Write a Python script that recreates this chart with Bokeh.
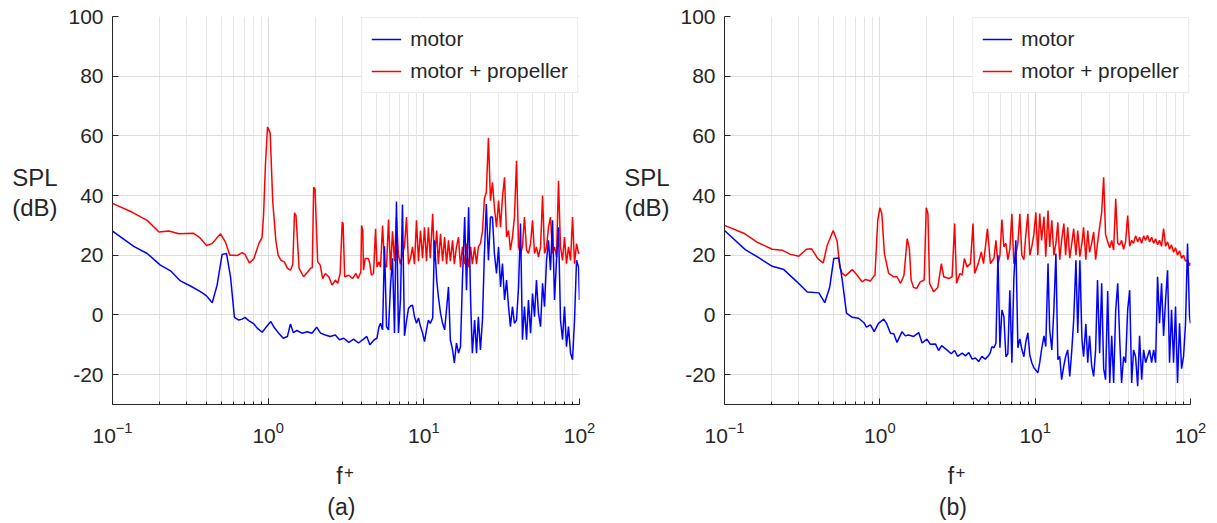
from bokeh.plotting import figure
from bokeh.layouts import row
from bokeh.models import Range1d, FixedTicker, Legend, LegendItem, LinearAxis
from bokeh.embed import file_html
from bokeh.resources import INLINE

# ---------------- data ----------------
# shared high-frequency grid (f+)
f_hi = [5.27, 5.43, 5.59, 5.76, 5.93, 6.11, 6.29, 6.48, 6.67, 6.87,
        7.08, 7.29, 7.51, 7.74, 7.97, 8.21, 8.46, 8.71, 8.97, 9.24,
        9.52, 9.81, 10.1, 10.4, 10.7, 11.0, 11.4, 11.7, 12.1, 12.4,
        12.8, 13.2, 13.6, 14.0, 14.4, 14.8, 15.3, 15.7, 16.2, 16.7,
        17.2, 17.7, 18.3, 18.8, 19.4, 20.0, 20.5, 21.2, 21.8, 22.4,
        23.1, 23.8, 24.5, 25.2, 26.0, 26.8, 27.6, 28.4, 29.3, 30.2,
        31.1, 32.0, 33.0, 34.0, 35.0, 36.0, 37.1, 38.2, 39.4, 40.6,
        41.8, 43.0, 44.3, 45.7, 47.0, 48.5, 49.9, 51.4, 52.9, 54.5,
        56.2, 57.9, 59.6, 61.4, 63.2, 65.1, 67.1, 69.1, 71.2, 73.3,
        75.5, 77.8, 80.1, 82.5, 85.0, 87.6, 90.2, 92.9, 95.7, 98.6,
        100.0]

# panel (a) - motor + propeller
fa_red_lo = [0.1, 0.134, 0.167, 0.199, 0.23, 0.267, 0.33, 0.364, 0.402, 0.436,
             0.494, 0.532, 0.567, 0.601, 0.63, 0.681, 0.71, 0.759, 0.81, 0.871,
             0.915, 0.935, 0.96, 0.99, 1.03, 1.07, 1.12, 1.16, 1.21, 1.27,
             1.33, 1.39, 1.44, 1.476, 1.51, 1.58, 1.69, 1.87, 1.92, 1.96,
             2.0, 2.08, 2.16, 2.24, 2.33, 2.45, 2.58, 2.7, 2.8, 2.9,
             2.99, 3.03, 3.1, 3.3, 3.48, 3.66, 3.78, 3.94, 3.98, 4.05,
             4.1, 4.2, 4.4, 4.5, 4.6, 4.75, 4.9, 5.0, 5.15]
a_red_lo = [37.4, 34.4, 31.7, 27.8, 28.1, 27.2, 27.4, 25.9, 23.3, 23.9,
            27.2, 24.4, 20.0, 20.0, 19.9, 20.9, 20.3, 17.4, 18.9, 23.9,
            26.1, 33.9, 50.0, 63.0, 61.0, 38.0, 25.0, 20.0, 18.3, 17.8,
            15.6, 15.0, 17.0, 34.2, 33.3, 15.6, 12.8, 15.6, 15.9, 42.8,
            42.2, 17.8, 16.7, 12.2, 13.9, 12.8, 10.0, 11.7, 10.6, 13.9,
            31.1, 30.6, 12.8, 13.3, 12.2, 13.9, 12.2, 14.4, 30.0, 28.3,
            15.0, 18.9, 18.9, 17.2, 13.3, 13.9, 28.9, 16.1, 17.8]
a_red_hi = [16, 30, 17, 16, 32, 15, 28, 18, 32.8, 20,
            17, 20.5, 22.8, 32.8, 17, 19, 22.8, 17, 31.7, 18,
            28.3, 19, 29.4, 18, 29.4, 19, 33.9, 18, 28.3, 17,
            27.2, 18, 26.1, 17, 25, 18, 25, 17, 22.8, 26.1,
            16, 22.8, 17, 23.9, 16, 22.8, 17, 22.8, 17, 22.8,
            23.9, 28, 39, 41.1, 59.4, 38.3, 44.4, 36, 29.4, 38.3,
            29.4, 39.4, 46.1, 26.1, 28.3, 21.7, 26.1, 32.8, 51.7, 22.8,
            20.6, 22.8, 32.8, 21.7, 20.6, 23.9, 31.7, 20.6, 22.8, 19.4,
            22.8, 40, 20.6, 22.8, 29.4, 32.8, 20.6, 22.8, 19.4, 45,
            22.8, 18.3, 26.1, 17.2, 22.8, 18.3, 32.8, 17.2, 23.9, 20.6,
            21]

# panel (a) - motor
fa_blue_lo = [0.1, 0.137, 0.167, 0.203, 0.236, 0.273, 0.317, 0.367, 0.402, 0.437,
              0.47, 0.506, 0.54, 0.573, 0.607, 0.648, 0.68, 0.71, 0.75, 0.81,
              0.85, 0.915, 0.96, 1.04, 1.1, 1.17, 1.25, 1.33, 1.39, 1.45,
              1.53, 1.65, 1.78, 1.91, 2.05, 2.17, 2.33, 2.5, 2.7, 2.87,
              3.06, 3.3, 3.54, 3.8, 4.1, 4.3, 4.5, 4.8, 5.0, 5.15]
a_blue_lo = [28.1, 23.0, 20.6, 16.7, 14.8, 11.4, 9.7, 7.8, 6.4, 4.1,
             10.0, 20.3, 20.6, 12.8, -0.8, -1.7, -1.4, -0.8, -1.9, -3.0,
             -4.4, -5.8, -4.4, -2.2, -4.4, -6.1, -7.8, -7.2, -3.0, -5.9,
             -5.2, -6.1, -5.6, -6.1, -4.1, -6.1, -6.7, -7.2, -6.7, -8.3,
             -7.8, -9.2, -8.1, -9.4, -8.1, -7.2, -10.0, -8.3, -7.8, -4.0]
a_blue_hi = [-2.8, -5, 23, -4, -5, 10, 19, -6, 38, -6,
             5, 37, -7, -2, 2.2, 3, 3.3, -0.6, -2.8, -1,
             -3.9, -6, -8.9, -5, -1.7, -2.8, -1, 25, 11.7, 6.1,
             0.6, -2.8, -5, 2, 9.4, -8.3, -11.7, -16.1, -9.4, -12.8,
             -10.6, 11.7, 32.8, 8.3, 36.1, 3.9, -12.8, -1.7, -12.8, -0.6,
             -11.7, -1.7, 20.6, 37.2, 18.3, 32.8, 32.8, 20.6, 13.9, 22.8,
             9.4, 17.2, 5, 11.7, 2.8, -3.9, 2.8, -2.8, -1.7, 9.4,
             30.6, -8.3, 2.8, -8.3, 5, -6.1, 7.2, -0.6, 11.7, 0.6,
             -3.9, 10.6, 2.8, 18.3, 25, 15, 31.7, 5, 18.3, 29.4,
             -1.7, -8.3, 2.8, -10.6, -3.9, -12.8, -15, -1.7, 18.3, 16.1,
             5]

# panel (b) - motor + propeller
fb_red_lo = [0.1, 0.133, 0.162, 0.203, 0.235, 0.266, 0.301, 0.337, 0.363, 0.399,
             0.432, 0.458, 0.501, 0.531, 0.552, 0.573, 0.601, 0.664, 0.715, 0.769,
             0.809, 0.871, 0.915, 0.93, 0.97, 1.0, 1.03, 1.07, 1.14, 1.23,
             1.29, 1.36, 1.43, 1.5, 1.55, 1.59, 1.65, 1.73, 1.82, 1.93,
             1.99, 2.04, 2.09, 2.22, 2.36, 2.49, 2.58, 2.78, 2.92, 3.03,
             3.12, 3.28, 3.39, 3.5, 3.64, 3.83, 3.98, 4.08, 4.3, 4.5,
             4.65, 4.93, 5.15]
b_red_lo = [30.0, 27.4, 24.4, 22.0, 21.7, 20.3, 19.7, 22.0, 22.2, 18.9,
            17.4, 23.3, 28.3, 24.7, 16.1, 13.9, 13.1, 15.2, 13.3, 11.1,
            11.9, 11.4, 13.0, 13.3, 31.7, 35.9, 33.9, 20.6, 13.9, 12.8,
            12.8, 10.6, 13.3, 25.6, 22.2, 11.7, 9.2, 8.9, 11.1, 11.7,
            35.9, 33.9, 10.6, 7.8, 9.2, 17.2, 12.8, 12.2, 12.8, 30.6,
            10.6, 13.9, 13.3, 18.9, 16.1, 17.2, 30.6, 13.9, 17.2, 21.1,
            17.2, 28.9, 17.2]
b_red_hi = [18, 19, 25, 17, 20, 32, 22.8, 24, 18.5, 22,
            33.9, 17.2, 20.5, 24, 33.9, 20, 18.5, 27, 33.9, 20,
            23, 27, 34.4, 20, 34, 25, 33, 19.5, 35, 22.8,
            31.7, 20, 24, 31, 18.5, 25, 30.6, 20, 29.4, 19,
            24, 28.9, 20, 28.3, 19.5, 24, 29.4, 18.5, 28.3, 21,
            24, 27.8, 18.5, 24, 29.4, 34.4, 46.1, 27, 24.5, 22.5,
            25, 21.7, 38.9, 24, 23.5, 25, 22, 24.5, 33.3, 23,
            25, 24, 26.5, 24.5, 26, 24, 26.5, 25, 26.7, 24.5,
            26, 24, 25.5, 23.5, 25, 23, 28.9, 23, 24.5, 22,
            23.5, 21, 22.5, 20, 21.5, 19, 20, 18, 18.5, 16.5,
            17.5]

# panel (b) - motor
fb_blue_lo = [0.1, 0.136, 0.166, 0.203, 0.241, 0.293, 0.341, 0.405, 0.442, 0.476,
              0.505, 0.544, 0.573, 0.61, 0.664, 0.73, 0.79, 0.82, 0.87, 0.92,
              0.98, 1.06, 1.11, 1.17, 1.23, 1.29, 1.39, 1.46, 1.53, 1.65,
              1.78, 1.87, 2.01, 2.11, 2.28, 2.39, 2.5, 2.7, 2.88, 3.03,
              3.17, 3.39, 3.56, 3.74, 3.93, 4.12, 4.33, 4.54, 4.77, 5.0,
              5.15]
b_blue_lo = [28.3, 21.9, 19.2, 16.3, 15.2, 11.1, 7.7, 7.4, 4.1, 9.4,
             18.9, 19.1, 11.7, 0.6, -0.8, -1.1, -2.6, -4.1, -3.3, -5.6,
             -2.8, -1.4, -3.0, -6.1, -6.3, -9.2, -5.6, -7.0, -6.7, -7.2,
             -5.9, -9.4, -8.1, -9.8, -9.7, -11.9, -10.3, -11.7, -13.0, -11.9,
             -13.9, -12.8, -13.7, -12.6, -14.8, -14.4, -15.6, -13.9, -14.8, -13.7,
             -12.5]
b_blue_hi = [-10.6, -11, -9.5, 20, -11, 1.7, -0.6, -14, -13, 8.3,
             -16, 12, 25, -11, -8, -11.5, -14, -9, -6, -13.5,
             -16, -17.7, -18.5, -19.4, -16, -11.5, -7, -10.6, 17.2, -5,
             -11.7, 2, 20.6, -15, -13.9, -21.7, -17, -14, -11.7, -20.6,
             -12, -1.7, 18.3, -6, 18.3, -8, -14, -3, -16, -7,
             -17, -20.6, -11.7, 11.7, -12.8, 10.6, -18, -21.7, 8, -22.8,
             -7, -22.8, 1.7, 10.6, -8, -22.8, -13.9, -16, 1.7, 8.3,
             -22.8, -11.7, -14, -23.9, -7, -21.7, -11.7, -16, -13.9, -11.7,
             -16, -11.7, -16, 12.8, -2.8, 10.6, -7, 5, 15, -16,
             1.7, -16, 2.8, -22.8, -2.8, -18, -13.9, -2.8, 23.9, -0.6,
             -2.8]

y_ticks = [-20, 0, 20, 40, 60, 80, 100]
y_tick_text = {-20: "-20"}
x_ticks = [0.1, 1, 10, 100]
x_minor = [0.2, 0.3, 0.4, 0.5, 0.6, 0.7, 0.8, 0.9,
           2, 3, 4, 5, 6, 7, 8, 9,
           20, 30, 40, 50, 60, 70, 80, 90]
series_labels = ["motor", "motor + propeller"]
y_label_lines = ["SPL", "(dB)"]
x_label_base = "f"
x_label_sup = "+"

FONT = "Liberation Sans"
TXT = "#262626"


def text_axis(ticks, texts, size, standoff):
    """An axis that only carries text (no line, no ticks)."""
    return LinearAxis(ticker=FixedTicker(ticks=ticks),
                      major_label_overrides=dict(zip(ticks, texts)),
                      axis_line_color=None, major_tick_line_color=None,
                      minor_tick_line_color=None, major_label_standoff=standoff,
                      major_label_text_font=FONT, major_label_text_font_size=size,
                      major_label_text_color=TXT)


def panel(f_red, y_red, f_blue, y_blue, tag, fw, bl, br):
    p = figure(frame_width=fw, frame_height=388, x_axis_type="log",
               x_range=Range1d(0.1, 100), y_range=Range1d(-30, 100),
               output_backend="svg", toolbar_location=None,
               min_border_left=bl, min_border_right=br,
               min_border_top=16, min_border_bottom=119)
    p.outline_line_color = None
    p.background_fill_color = "white"
    p.border_fill_color = "white"

    p.xaxis.ticker = FixedTicker(ticks=x_ticks, minor_ticks=x_minor)
    p.yaxis.ticker = FixedTicker(ticks=y_ticks)
    p.yaxis.major_label_overrides = y_tick_text
    for ax in (p.xaxis[0], p.yaxis[0]):
        ax.axis_line_color = TXT
        ax.major_tick_line_color = TXT
        ax.minor_tick_line_color = TXT
        ax.major_tick_in = 6
        ax.major_tick_out = 0
        ax.minor_tick_in = 3
        ax.minor_tick_out = 0
        ax.major_label_text_font = FONT
        ax.major_label_text_font_size = "21px"
        ax.major_label_text_color = TXT
    p.yaxis.minor_tick_line_color = None
    p.yaxis.major_label_standoff = 9
    p.xaxis.major_label_standoff = 17

    # x label "f" with raised "+", then the panel caption
    p.add_layout(text_axis([2.87], [x_label_base], "23px", 11), "below")
    p.add_layout(text_axis([3.3], [x_label_sup], "17px", -32), "below")
    p.add_layout(text_axis([2.95], [tag], "23px", -4), "below")

    # y label: horizontal two-line text beside the axis
    p.add_layout(text_axis([46, 36], y_label_lines, "24px", 2), "left")

    p.xgrid.grid_line_color = "#dedede"
    p.xgrid.minor_grid_line_color = "#e6e6e6"
    p.ygrid.grid_line_color = "#dedede"

    rr = p.line(f_red, y_red, line_color="#ff0000", line_width=1.5)
    rb = p.line(f_blue, y_blue, line_color="#0000ff", line_width=1.5)

    leg = Legend(items=[LegendItem(label=series_labels[0], renderers=[rb]),
                        LegendItem(label=series_labels[1], renderers=[rr])],
                 location="top_right", margin=1, padding=9, spacing=8,
                 label_standoff=9, glyph_width=30, glyph_height=20,
                 label_text_font=FONT, label_text_font_size="20.8px",
                 label_text_color=TXT, border_line_color="#d9d9d9",
                 background_fill_alpha=1.0)
    p.add_layout(leg)
    return p


pa = panel(fa_red_lo + f_hi, a_red_lo + a_red_hi,
           fa_blue_lo + f_hi, a_blue_lo + a_blue_hi, "(a)", 467, 112, 29)
pb = panel(fb_red_lo + f_hi, b_red_lo + b_red_hi,
           fb_blue_lo + f_hi, b_blue_lo + b_blue_hi, "(b)", 466, 116, 27)

layout = row(pa, pb)
open("out.html", "w").write(file_html(layout, INLINE))
